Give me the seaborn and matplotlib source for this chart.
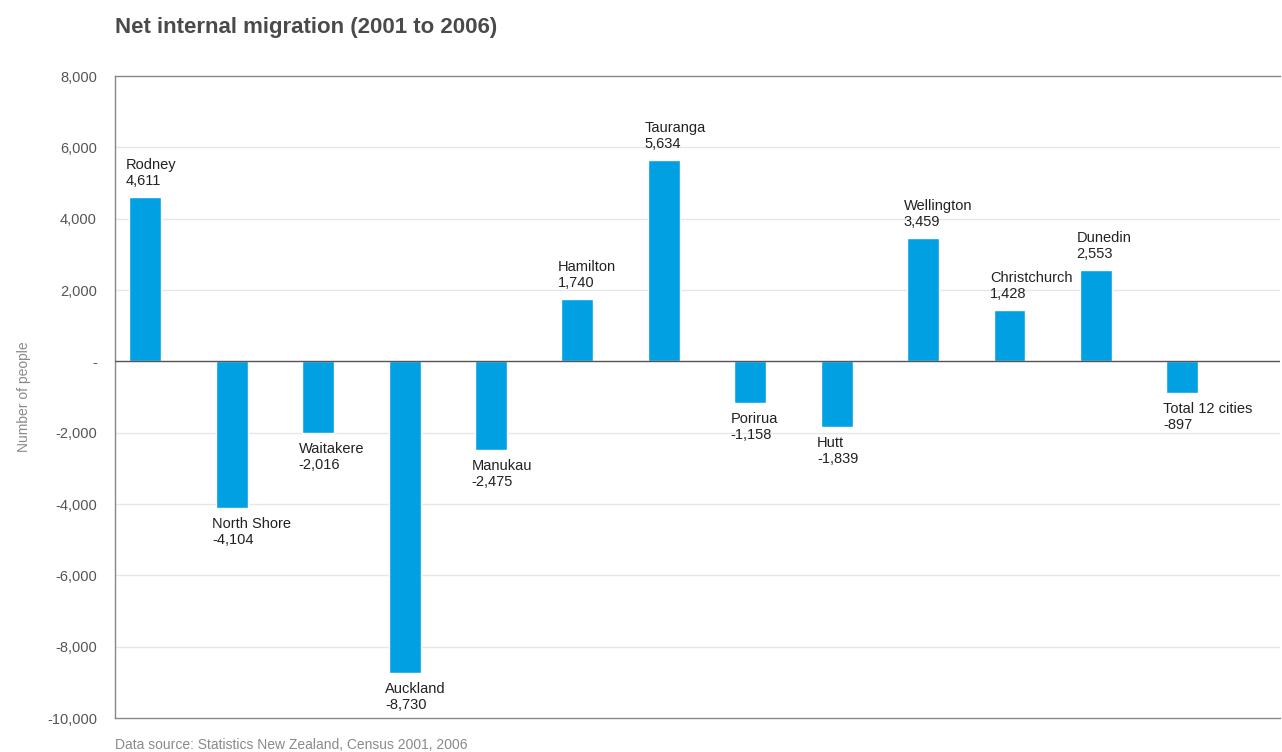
import pandas as pd
import matplotlib.pyplot as plt
import seaborn as sns
from matplotlib import font_manager

# données
villes = ['Rodney', 'North Shore', 'Waitakere', 'Auckland', 'Manukau', 'Hamilton',
          'Tauranga', 'Porirua', 'Hutt', 'Wellington', 'Christchurch', 'Dunedin',
          'Total 12 cities']
migration = [4611, -4104, -2016, -8730, -2475, 1740, 5634, -1158, -1839, 3459,
             1428, 2553, -897]
graduations = [-10000, -8000, -6000, -4000, -2000, 0, 2000, 4000, 6000, 8000]

df = pd.DataFrame({'ville': villes, 'migration': migration})

sns.set_style("white")
noms = {f.name for f in font_manager.fontManager.ttflist}
police = 'Liberation Sans Narrow' if 'Liberation Sans Narrow' in noms else 'Liberation Sans'
plt.rcParams['font.family'] = [police, 'DejaVu Sans']

bleu = '#00a0e3'
gris_texte = '#4a4a4a'

fig = plt.figure(figsize=(12.82, 7.52), dpi=100)
ax = fig.add_axes([115 / 1282, 1 - 718 / 752, (1280 - 115) / 1282, (718 - 76) / 752])

sns.barplot(data=df, x='ville', y='migration', order=villes, color=bleu,
            width=0.37, saturation=1, ax=ax)

ax.set_ylim(-10000, 8000)
ax.set_xlim(-0.35, len(villes) - 1 + 1.13)
ax.set_yticks(graduations)
ax.set_yticklabels(['-' if v == 0 else f'{v:,}' for v in graduations],
                   fontsize=10.5, color='#555555')
ax.set_xticks([])
ax.set_xlabel('')
ax.set_ylabel('Number of people', fontsize=10, color='#8a8a8a')
ax.yaxis.set_label_coords(-0.072, 0.5)
ax.tick_params(axis='y', length=5, width=0.8, color='#888888', pad=8)

# grille légère
for v in graduations[1:-1]:
    if v != 0:
        ax.axhline(v, color='#e6e6e6', lw=1, zorder=0)
ax.axhline(0, color='#555555', lw=1, zorder=3)

for cote in ['top', 'bottom', 'left']:
    ax.spines[cote].set_color('#888888')
    ax.spines[cote].set_linewidth(1)
ax.spines['right'].set_visible(False)

# étiquettes des barres
for i, (nom, val) in enumerate(zip(villes, migration)):
    x = i - 0.185
    if val >= 0:
        ax.text(x - 0.04, val + 250, f'{nom}\n{val:,}', ha='left', va='bottom',
                fontsize=10.5, color='#222222', linespacing=1.2)
    else:
        ax.text(x - 0.04, val - 250, f'{nom}\n{val:,}', ha='left', va='top',
                fontsize=10.5, color='#222222', linespacing=1.2)

fig.text(115 / 1282, 1 - 27 / 752, 'Net internal migration (2001 to 2006)',
         fontsize=16, fontweight='bold', color=gris_texte, ha='left', va='center')
fig.text(115 / 1282, 1 - 745 / 752, 'Data source: Statistics New Zealand, Census 2001, 2006',
         fontsize=10, color='#8a8a8a', ha='left', va='center')

fig.savefig('out.png', dpi=100)
plt.close(fig)
